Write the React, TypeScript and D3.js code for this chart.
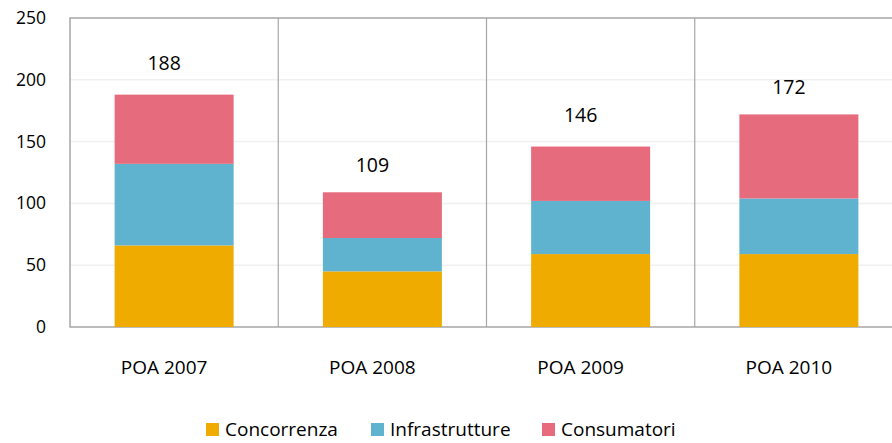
import { useEffect, useRef } from "react";
import * as d3 from "d3";

const categories = ["POA 2007", "POA 2008", "POA 2009", "POA 2010"];
const seriesNames = ["Concorrenza", "Infrastrutture", "Consumatori"];
const concorrenza = [66, 45, 59, 59];
const infrastrutture = [66, 27, 43, 45];
const consumatori = [56, 37, 44, 68];
const yTicks = [0, 50, 100, 150, 200, 250];

const colors = ["#F0AB00", "#5FB3CE", "#E66C7D"];

export default function App() {
  const ref = useRef<SVGSVGElement>(null);

  useEffect(() => {
    if (!ref.current) return;
    const svg = d3.select(ref.current);
    svg.selectAll("*").remove();

    const W = 892;
    const H = 443;
    const margin = { top: 18, left: 70, bottom: 116 };
    const plotH = H - margin.top - margin.bottom;
    const plotRight = 903;
    const font = "'Open Sans', 'DejaVu Sans', sans-serif";

    const x = d3
      .scaleBand()
      .domain(categories)
      .range([margin.left, plotRight])
      .paddingInner(0)
      .paddingOuter(0);

    const y = d3.scaleLinear().domain([0, 250]).range([margin.top + plotH, margin.top]);

    const rows = categories.map((c, i) => ({
      cat: c,
      Concorrenza: concorrenza[i],
      Infrastrutture: infrastrutture[i],
      Consumatori: consumatori[i],
    }));
    const stack = d3.stack<any>().keys(seriesNames)(rows);

    // gridlines
    svg
      .append("g")
      .selectAll("line")
      .data(yTicks.filter((t) => t > 0 && t < 250))
      .enter()
      .append("line")
      .attr("x1", margin.left)
      .attr("x2", W)
      .attr("y1", (d) => y(d))
      .attr("y2", (d) => y(d))
      .attr("stroke", "#f0f0f0")
      .attr("stroke-width", 1.5);

    // category dividers
    svg
      .append("g")
      .selectAll("line")
      .data(categories.slice(1))
      .enter()
      .append("line")
      .attr("x1", (d) => x(d)!)
      .attr("x2", (d) => x(d)!)
      .attr("y1", y(250))
      .attr("y2", y(0))
      .attr("stroke", "#a6a6a6")
      .attr("stroke-width", 1.2);

    // border
    svg
      .append("rect")
      .attr("x", margin.left)
      .attr("y", y(250))
      .attr("width", plotRight - margin.left)
      .attr("height", y(0) - y(250))
      .attr("fill", "none")
      .attr("stroke", "#a6a6a6")
      .attr("stroke-width", 1.5);

    const barW = 119;
    const bw = x.bandwidth();

    svg
      .append("g")
      .selectAll("g")
      .data(stack)
      .enter()
      .append("g")
      .attr("fill", (_d, i) => colors[i])
      .selectAll("rect")
      .data((d) => d)
      .enter()
      .append("rect")
      .attr("x", (d: any) => x(d.data.cat)! + (bw - barW) / 2)
      .attr("width", barW)
      .attr("y", (d) => y(d[1]))
      .attr("height", (d) => y(d[0]) - y(d[1]));

    // totals
    svg
      .append("g")
      .selectAll("text")
      .data(rows)
      .enter()
      .append("text")
      .attr("x", (d) => x(d.cat)! + bw / 2 - 10)
      .attr("y", (d, i) => y(d.Concorrenza + d.Infrastrutture + d.Consumatori) - (i % 2 === 0 ? 25 : 20))
      .attr("text-anchor", "middle")
      .attr("font-family", font)
      .attr("font-size", 19.5)
      .attr("fill", "#000")
      .text((d) => d.Concorrenza + d.Infrastrutture + d.Consumatori);

    // y ticks
    svg
      .append("g")
      .selectAll("text")
      .data(yTicks)
      .enter()
      .append("text")
      .attr("x", 46)
      .attr("y", (d) => y(d) + 6)
      .attr("text-anchor", "end")
      .attr("font-family", font)
      .attr("font-size", 17.5)
      .attr("fill", "#000")
      .text((d) => d);

    // x labels
    svg
      .append("g")
      .selectAll("text")
      .data(categories)
      .enter()
      .append("text")
      .attr("x", (d) => x(d)! + bw / 2 - 10)
      .attr("y", 374)
      .attr("text-anchor", "middle")
      .attr("font-family", font)
      .attr("font-size", 19)
      .attr("fill", "#000")
      .text((d) => d);

    // legend
    const legendX = [206, 371, 542];
    const lg = svg
      .append("g")
      .selectAll("g")
      .data(seriesNames)
      .enter()
      .append("g")
      .attr("transform", (_d, i) => `translate(${legendX[i]},${423})`);
    lg.append("rect")
      .attr("width", 13)
      .attr("height", 13)
      .attr("fill", (_d, i) => colors[i]);
    lg.append("text")
      .attr("x", 19)
      .attr("y", 13)
      .attr("font-family", font)
      .attr("font-size", 19)
      .attr("fill", "#000")
      .text((d) => d);
  }, []);

  return (
    <svg
      ref={ref}
      width={892}
      height={443}
      style={{ position: "absolute", left: 0, top: 0, background: "#fff" }}
    />
  );
}
